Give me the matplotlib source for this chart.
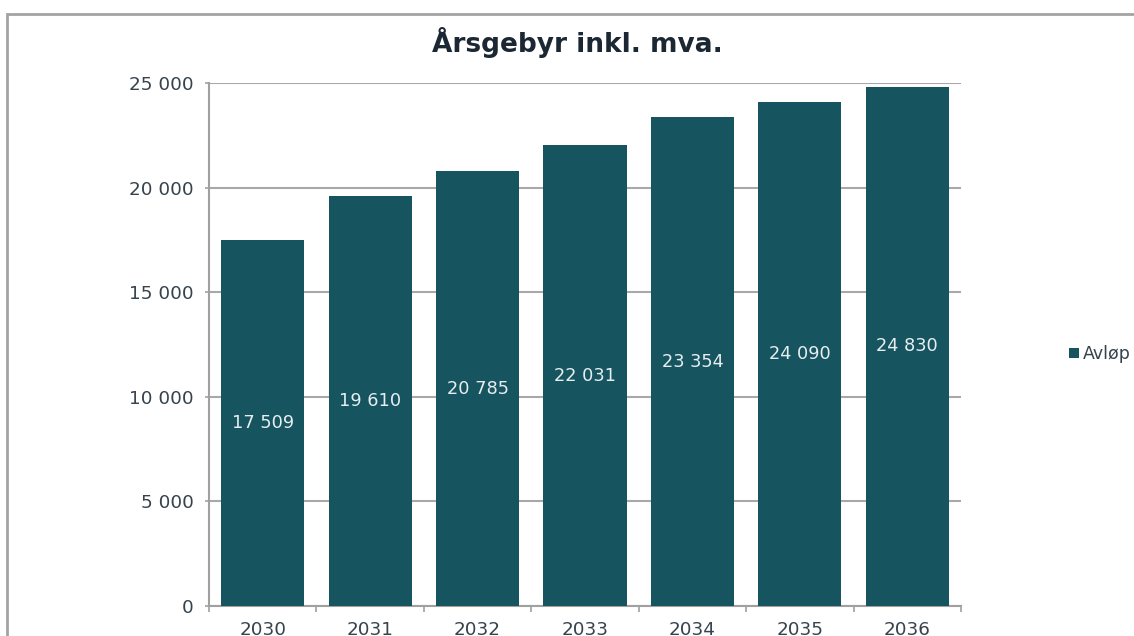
import matplotlib
matplotlib.use("Agg")
import matplotlib.pyplot as plt
from matplotlib.patches import Rectangle
from matplotlib.ticker import FixedLocator

years = ["2030", "2031", "2032", "2033", "2034", "2035", "2036"]
avlop = [17509, 19610, 20785, 22031, 23354, 24090, 24830]
yticks = [0, 5000, 10000, 15000, 20000, 25000]
series_name = "Avløp"
title = "Årsgebyr inkl. mva."

def fmt(v):
    return f"{v:,}".replace(",", " ")

W, H = 1134, 636
fig = plt.figure(figsize=(W / 100, H / 100), dpi=100)
fig.patch.set_facecolor("white")

# outer frame (extends past right/bottom edges)
fig.patches.append(Rectangle((7 / W, -0.2), 2.0, (H - 14) / H + 0.2,
                             transform=fig.transFigure, fill=False,
                             edgecolor="#a3a3a3", lw=2))

ax = fig.add_axes([209 / W, 30 / H, (961 - 209) / W, (606 - 83) / H])
bar_color = "#16545F"
x = list(range(len(years)))
bars = ax.bar(x, avlop, width=0.775, color=bar_color, zorder=3, label=series_name)
ax.set_xlim(-0.5, len(years) - 0.5)
ax.set_ylim(0, 25000)

ax.set_yticks(yticks)
ax.set_yticklabels([fmt(v) for v in yticks])
ax.set_xticks(x)
ax.set_xticklabels(years)
ax.xaxis.set_minor_locator(FixedLocator([i - 0.5 for i in range(len(years) + 1)]))

lbl_color = "#36434d"
ax.tick_params(axis="y", length=3, width=1.2, color="#a0a0a0", pad=8,
               labelsize=13.2, labelcolor=lbl_color)
ax.tick_params(axis="x", which="major", length=0, pad=11,
               labelsize=13.2, labelcolor=lbl_color)
ax.tick_params(axis="x", which="minor", length=4, width=1.2, color="#a0a0a0")

ax.grid(axis="y", color="#a8a8a8", lw=1.5, zorder=0)
for s in ["top", "right"]:
    ax.spines[s].set_visible(False)
for s in ["left", "bottom"]:
    ax.spines[s].set_color("#a0a0a0")
    ax.spines[s].set_linewidth(1.5)

for xi, v in zip(x, avlop):
    ax.text(xi, v / 2, fmt(v), ha="center", va="center", color="#e6eef0",
            fontsize=12.8, zorder=4)

fig.text(577 / W, 1 - 43 / H, title, ha="center", va="center",
         fontsize=19, fontweight="bold", color="#1b2833")

fig.legend(handles=[bars], labels=[series_name], loc="center left",
           bbox_to_anchor=(1069 / W, 1 - 354 / H), frameon=False,
           handlelength=0.55, handleheight=0.55, handletextpad=0.25,
           borderpad=0, borderaxespad=0, fontsize=12.5,
           labelcolor=lbl_color)

fig.savefig("out.png", dpi=100)
